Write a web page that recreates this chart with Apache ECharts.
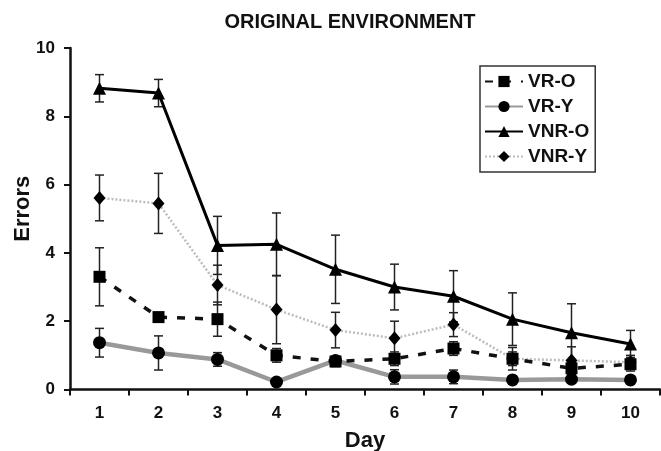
<!DOCTYPE html>
<html>
<head>
<meta charset="utf-8">
<script src="https://cdn.jsdelivr.net/npm/echarts@6/dist/echarts.min.js"></script>
<style>html,body{margin:0;padding:0;background:#fff;}#c{width:661px;height:451px;}</style>
</head>
<body>
<div id="c"></div>
<script>
const days = ['1','2','3','4','5','6','7','8','9','10'];
const yTicks = [0, 2, 4, 6, 8, 10];
const seriesNames = ['VR-O', 'VR-Y', 'VNR-O', 'VNR-Y'];
const vrO   = [3.30, 2.12, 2.06, 1.00, 0.82, 0.90, 1.20, 0.90, 0.62, 0.74];
const vrOErr= [0.85, 0.10, 0.50, 0.20, 0.15, 0.20, 0.20, 0.20, 0.15, 0.20];
const vrY   = [1.37, 1.07, 0.88, 0.22, 0.85, 0.37, 0.37, 0.28, 0.30, 0.28];
const vrYErr= [0.42, 0.50, 0.20, 0.10, 0.10, 0.21, 0.20, 0.10, 0.10, 0.10];
const vnrO  = [8.82, 8.68, 4.22, 4.25, 3.52, 3.00, 2.73, 2.06, 1.66, 1.33];
const vnrOErr=[0.40, 0.40, 0.85, 0.92, 1.00, 0.67, 0.75, 0.77, 0.85, 0.40];
const vnrY  = [5.61, 5.45, 3.06, 2.34, 1.74, 1.50, 1.90, 0.90, 0.85, 0.80];
const vnrYErr=[0.67, 0.88, 0.58, 1.00, 0.52, 0.50, 0.35, 0.33, 0.40, 0.20];

const FONT = 'Liberation Sans, Arial, sans-serif';

function errSeries(vals, errs) {
  return {
    type: 'custom',
    silent: true,
    z: 1,
    data: vals.map((v, i) => [i, v, errs[i]]),
    renderItem: function (params, api) {
      const i = api.value(0), v = api.value(1), e = api.value(2);
      const top = api.coord([i, v + e]);
      const bot = api.coord([i, v - e]);
      const cw = 4.5;
      const st = { stroke: '#222', lineWidth: 1.5 };
      return {
        type: 'group',
        children: [
          { type: 'line', shape: { x1: top[0], y1: top[1], x2: bot[0], y2: bot[1] }, style: st },
          { type: 'line', shape: { x1: top[0] - cw, y1: top[1], x2: top[0] + cw, y2: top[1] }, style: st },
          { type: 'line', shape: { x1: bot[0] - cw, y1: bot[1], x2: bot[0] + cw, y2: bot[1] }, style: st }
        ]
      };
    }
  };
}

const chart = echarts.init(document.getElementById('c'), null, { renderer: 'canvas' });
chart.setOption({
  animation: false,
  backgroundColor: '#fff',
  title: {
    text: 'ORIGINAL ENVIRONMENT',
    left: 345, top: 7, textAlign: 'center',
    textStyle: { fontFamily: FONT, fontWeight: 'bold', fontSize: 20, color: '#111' }
  },
  legend: {
    orient: 'vertical',
    left: 480, top: 66,
    data: seriesNames,
    itemWidth: 38, itemHeight: 14, itemGap: 6,
    padding: [6, 6, 6, 4],
    borderColor: '#333', borderWidth: 1.5,
    textStyle: { fontFamily: FONT, fontWeight: 'bold', fontSize: 19, color: '#111' }
  },
  grid: { left: 70, right: 1, top: 48, bottom: 61.5, containLabel: false, outerBoundsMode: 'none' },
  xAxis: {
    type: 'category',
    data: days,
    boundaryGap: true,
    name: 'Day', nameLocation: 'middle', nameGap: 40,
    nameTextStyle: { fontFamily: FONT, fontWeight: 'bold', fontSize: 22, color: '#111' },
    axisLine: { lineStyle: { color: '#111', width: 2.5 } },
    axisTick: { show: true, alignWithLabel: false, length: 6, lineStyle: { color: '#111', width: 2 } },
    axisLabel: { fontFamily: FONT, fontWeight: 'bold', fontSize: 17, color: '#111', margin: 15 },
    splitLine: { show: false }
  },
  yAxis: {
    type: 'value',
    min: yTicks[0], max: yTicks[yTicks.length - 1], interval: 2,
    name: 'Errors', nameLocation: 'middle', nameGap: 36, nameRotate: 90,
    nameMoveOverlap: false,
    nameTextStyle: { fontFamily: FONT, fontWeight: 'bold', fontSize: 22, color: '#111', padding: [0, 0, 0, 20] },
    axisLine: { show: true, lineStyle: { color: '#111', width: 2.5 } },
    axisTick: { show: true, length: 6, lineStyle: { color: '#111', width: 2 } },
    axisLabel: { fontFamily: FONT, fontWeight: 'bold', fontSize: 17, color: '#111', margin: 15 },
    splitLine: { show: false }
  },
  series: [
    errSeries(vrO, vrOErr), errSeries(vrY, vrYErr), errSeries(vnrO, vnrOErr), errSeries(vnrY, vnrYErr),
    {
      name: 'VNR-Y', type: 'line', data: vnrY, z: 2,
      symbol: 'diamond', symbolSize: [12, 14],
      itemStyle: { color: '#000' },
      lineStyle: { color: '#bdbdbd', width: 2.5, type: [2, 2] }
    },
    {
      name: 'VR-Y', type: 'line', data: vrY, z: 3,
      symbol: 'circle', symbolSize: 13,
      itemStyle: { color: '#000' },
      lineStyle: { color: '#999', width: 4.5 }
    },
    {
      name: 'VR-O', type: 'line', data: vrO, z: 4,
      symbol: 'rect', symbolSize: 12,
      itemStyle: { color: '#000' },
      lineStyle: { color: '#111', width: 3.5, type: [8, 10] }
    },
    {
      name: 'VNR-O', type: 'line', data: vnrO, z: 5,
      symbol: 'triangle', symbolSize: 13,
      itemStyle: { color: '#000' },
      lineStyle: { color: '#000', width: 3 }
    }
  ]
});
</script>
</body>
</html>
